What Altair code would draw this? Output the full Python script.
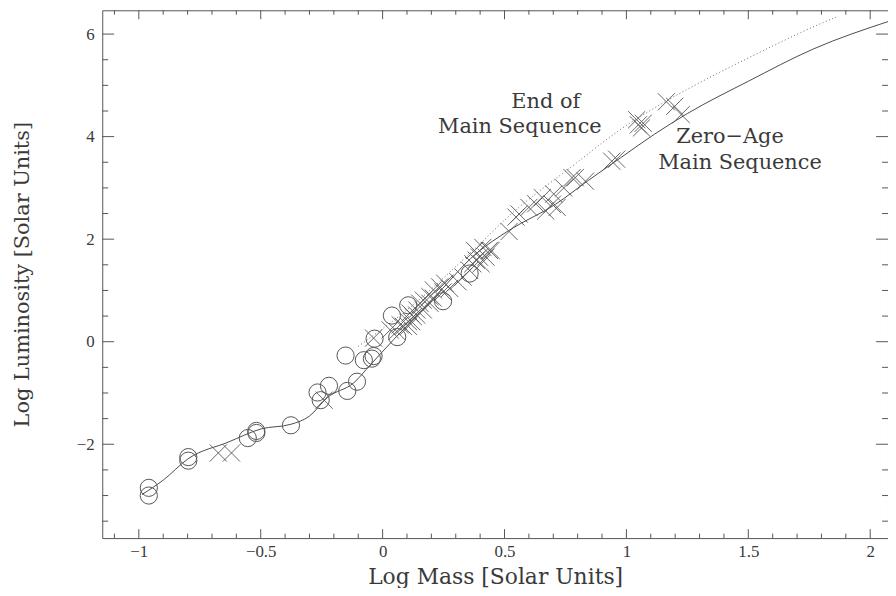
import altair as alt
import pandas as pd

# ---- data ----
zams_x = [-0.987, -0.90, -0.797, -0.634, -0.498, -0.376, -0.30, -0.227, -0.118, -0.05, 0.045, 0.20, 0.384, 0.518, 0.709, 0.845, 0.98, 1.116, 1.25, 1.50, 1.767, 2.077]
zams_y = [-2.98, -2.70, -2.28, -1.96, -1.70, -1.61, -1.45, -1.09, -0.80, -0.45, 0.04, 0.80, 1.72, 2.17, 2.68, 3.15, 3.60, 4.05, 4.45, 5.08, 5.71, 6.25]

ems_x = [-0.10, 0.10, 0.384, 0.518, 0.777, 0.994, 1.144, 1.28, 1.52, 1.795, 1.86]
ems_y = [-0.09, 0.62, 1.84, 2.45, 3.42, 4.20, 4.64, 5.00, 5.58, 6.20, 6.33]

circ_x = [-0.959, -0.959, -0.797, -0.797, -0.553, -0.518, -0.518, -0.376, -0.267, -0.254, -0.22, -0.145, -0.105, -0.152, -0.077, -0.037, -0.044, -0.033, 0.06, 0.038, 0.105, 0.248, 0.357]
circ_y = [-2.85, -3.00, -2.25, -2.32, -1.88, -1.74, -1.78, -1.63, -0.99, -1.14, -0.86, -0.96, -0.78, -0.27, -0.36, -0.28, -0.33, 0.06, 0.09, 0.51, 0.71, 0.79, 1.33]

cross_x = [-0.674, -0.62, -0.24, -0.037, 0.031, 0.058, 0.072, 0.085, 0.106, 0.106, 0.119, 0.126, 0.112, 0.14, 0.14, 0.153, 0.167, 0.167, 0.194, 0.194, 0.208, 0.208, 0.234, 0.248, 0.255, 0.275, 0.309, 0.33, 0.357, 0.37, 0.384, 0.404, 0.424, 0.377, 0.438, 0.397, 0.411, 0.445,
           0.519, 0.547, 0.56, 0.60, 0.628, 0.655, 0.669, 0.696, 0.716, 0.702, 0.743, 0.777, 0.79, 0.832, 0.94, 0.96, 1.042, 1.049, 1.069, 1.062, 1.164, 1.198, 1.225]
cross_y = [-2.17, -2.17, -1.14, 0.07, 0.23, 0.20, 0.33, 0.30, 0.30, 0.39, 0.39, 0.49, 0.56, 0.52, 0.62, 0.75, 0.62, 0.81, 0.75, 0.88, 0.85, 1.01, 1.07, 0.97, 1.14, 1.04, 1.17, 1.26, 1.39, 1.52, 1.59, 1.52, 1.65, 1.78, 1.78, 1.65, 1.84, 1.78,
           2.15, 2.43, 2.49, 2.62, 2.69, 2.81, 2.55, 2.68, 2.62, 2.88, 3.00, 3.20, 3.20, 3.13, 3.52, 3.56, 4.33, 4.23, 4.26, 4.17, 4.68, 4.59, 4.43]

labels_text = ["End of", "Main Sequence", "Zero\u2212Age", "Main Sequence"]
labels_x = [0.669, 0.563, 1.425, 1.466]
labels_y = [4.68, 4.18, 3.99, 3.48]

x_major = [-1, -0.5, 0, 0.5, 1, 1.5, 2]
x_minor = [round(-1.1 + 0.1 * i, 2) for i in range(32) if round((-1.1 + 0.1 * i) * 2, 6) % 1 != 0]
y_major = [-2, 0, 2, 4, 6]
y_minor = [-3.5, -3, -2.5, -1.5, -1, -0.5, 0.5, 1, 1.5, 2.5, 3, 3.5, 4.5, 5, 5.5]

X_DOMAIN = [-1.15, 2.073]
Y_DOMAIN = [-3.83, 6.464]
W, H = 792, 532
INK = "#4a4a4a"

xs = alt.Scale(domain=X_DOMAIN, nice=False, zero=False)
ys = alt.Scale(domain=Y_DOMAIN, nice=False, zero=False)

zams = pd.DataFrame({"x": zams_x, "y": zams_y})
ems = pd.DataFrame({"x": ems_x, "y": ems_y})
circ = pd.DataFrame({"x": circ_x, "y": circ_y})
cross = pd.DataFrame({"x": cross_x, "y": cross_y})
labs = pd.DataFrame({"t": labels_text, "x": labels_x, "y": labels_y})

X = alt.X("x:Q", scale=xs, axis=alt.Axis(values=x_major, format="~g", ticks=False, domain=False, grid=False,
                                        labelFont="Liberation Serif", labelFontSize=17, labelColor="#3a3a3a",
                                        labelPadding=6, title="Log Mass [Solar Units]",
                                        titleFont="DejaVu Serif", titleFontSize=22, titleFontWeight="normal",
                                        titleColor="#3a3a3a", titlePadding=7))
Y = alt.Y("y:Q", scale=ys, axis=alt.Axis(values=y_major, format="~g", ticks=False, domain=False, grid=False,
                                        labelFont="Liberation Serif", labelFontSize=17, labelColor="#3a3a3a",
                                        labelPadding=8, title="Log Luminosity [Solar Units]",
                                        titleFont="DejaVu Serif", titleFontSize=21, titleFontWeight="normal",
                                        titleColor="#3a3a3a", titlePadding=44))

base_line = alt.Chart(zams).mark_line(color=INK, strokeWidth=1, interpolate="monotone", clip=True).encode(x=X, y=Y)
ems_line = alt.Chart(ems).mark_line(color="#666", strokeWidth=1, strokeDash=[1, 2.5], interpolate="monotone", clip=True).encode(
    x=alt.X("x:Q", scale=xs), y=alt.Y("y:Q", scale=ys))
circles = alt.Chart(circ).mark_point(shape="circle", filled=False, size=300, strokeWidth=1, color="#555", opacity=1).encode(
    x=alt.X("x:Q", scale=xs), y=alt.Y("y:Q", scale=ys))
crosses = alt.Chart(cross).mark_point(shape="M-1,-1L1,1M-1,1L1,-1", filled=False, size=300, strokeWidth=0.9, color="#555", opacity=1).encode(
    x=alt.X("x:Q", scale=xs), y=alt.Y("y:Q", scale=ys))
texts = alt.Chart(labs).mark_text(font="DejaVu Serif", fontSize=21, color="#3a3a3a").encode(
    x=alt.X("x:Q", scale=xs), y=alt.Y("y:Q", scale=ys), text="t:N")


def xticks(vals, length):
    d = pd.DataFrame({"x": vals})
    b = alt.Chart(d).mark_rule(color="#555", strokeWidth=1).encode(
        x=alt.X("x:Q", scale=xs), y=alt.value(H), y2=alt.value(H - length))
    t = alt.Chart(d).mark_rule(color="#555", strokeWidth=1).encode(
        x=alt.X("x:Q", scale=xs), y=alt.value(0), y2=alt.value(length))
    return [b, t]


def yticks(vals, length):
    d = pd.DataFrame({"y": vals})
    l = alt.Chart(d).mark_rule(color="#555", strokeWidth=1).encode(
        y=alt.Y("y:Q", scale=ys), x=alt.value(0), x2=alt.value(length))
    r = alt.Chart(d).mark_rule(color="#555", strokeWidth=1).encode(
        y=alt.Y("y:Q", scale=ys), x=alt.value(W), x2=alt.value(W - length))
    return [l, r]


layers = [base_line, ems_line, circles, crosses, texts]
layers += xticks(x_major, 9) + xticks(x_minor, 4.5) + yticks(y_major, 12) + yticks(y_minor, 6)

chart = alt.layer(*layers).properties(
    width=W, height=H,
    autosize=alt.AutoSizeParams(type="none"),
    padding={"left": 95, "top": 0, "right": 0, "bottom": 48},
    background="white",
).configure_view(stroke="#555", strokeWidth=1)

chart.save("out.html", embed_options={"renderer": "svg", "actions": False})
